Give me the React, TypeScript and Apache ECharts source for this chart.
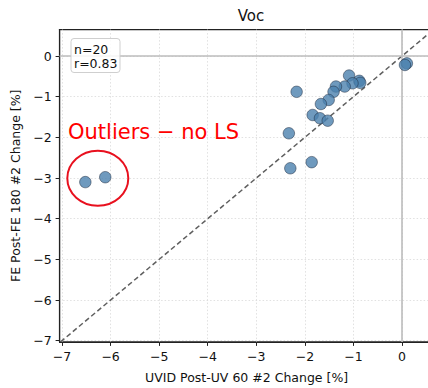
import React, { useEffect, useRef } from "react";
import * as echarts from "echarts";

// Paired changes (UVID vs FE), fitted group
const uvidChange = [0.10, 0.06, -1.09, -0.88, -0.86, -1.02, -1.18, -1.36, -1.41, -1.51, -1.67, -2.17, -1.84, -1.69, -1.53, -2.33, -1.86, -2.30];
const feChange = [-0.18, -0.22, -0.48, -0.61, -0.66, -0.67, -0.75, -0.75, -0.88, -1.08, -1.18, -0.88, -1.45, -1.53, -1.59, -1.90, -2.61, -2.76];

// Points excluded from the least-squares fit
const outlierUvid = [-6.52, -6.11];
const outlierFe = [-3.10, -2.98];

const tickValues = [-7, -6, -5, -4, -3, -2, -1, 0];
const statLines = ["n=20", "r=0.83"];

const X_MIN = -7.05;
const X_MAX = 0.65;
const Y_MIN = -7.03;
const Y_MAX = 0.65;

const FONT = "DejaVu Sans";
const fmt = (v: number) => String(v).replace("-", "\u2212");

export default function App() {
  const ref = useRef<HTMLDivElement>(null);

  useEffect(() => {
    if (!ref.current) return;
    const chart = echarts.init(ref.current, undefined, { renderer: "svg" });

    const mainPts = uvidChange.map((x, i) => [x, feChange[i]]);
    const outPts = outlierUvid.map((x, i) => [x, outlierFe[i]]);
    const lo = Math.max(X_MIN, Y_MIN);
    const hi = Math.min(X_MAX, Y_MAX);

    const axisCommon = {
      type: "value" as const,
      axisLine: { show: true, onZero: false, lineStyle: { color: "#222", width: 1.2 } },
      axisTick: {
        show: true,
        inside: false,
        length: 4,
        customValues: tickValues,
        lineStyle: { color: "#222", width: 1 },
      },
      axisLabel: {
        customValues: tickValues,
        formatter: (v: number) => fmt(v),
        color: "#111",
        fontFamily: FONT,
        fontSize: 12.5,
        margin: 8,
      },
      splitLine: {
        show: true,
        lineStyle: { color: "#d9d9d9", width: 0.8, type: [1.5, 2] },
      },
      nameLocation: "middle" as const,
      nameTextStyle: { fontFamily: FONT, fontSize: 12.5, color: "#111" },
    };

    chart.setOption({
      animation: false,
      backgroundColor: "#ffffff",
      textStyle: { fontFamily: FONT },
      title: {
        text: "Voc",
        left: 246,
        top: 3,
        textAlign: "center",
        textStyle: { fontFamily: FONT, fontSize: 15, fontWeight: "normal", color: "#111" },
      },
      grid: {
        left: 59.6,
        top: 29.6,
        right: -5.6,
        height: 312.3,
        containLabel: false,
        outerBoundsMode: "none",
        show: true,
        borderColor: "#222",
        borderWidth: 1.2,
        backgroundColor: "transparent",
      },
      xAxis: {
        ...axisCommon,
        min: X_MIN,
        max: X_MAX,
        name: "UVID Post-UV 60 #2 Change [%]",
        nameGap: 29,
      },
      yAxis: {
        ...axisCommon,
        min: Y_MIN,
        max: Y_MAX,
        name: "FE Post-FE 180 #2 Change [%]",
        nameGap: 36,
      },
      series: [
        {
          type: "line",
          data: [[lo, lo], [hi + 1, hi + 1]],
          symbol: "none",
          silent: true,
          z: 3,
          lineStyle: { color: "#5f5f5f", width: 1.5, type: [5, 3] },
          markLine: {
            silent: true,
            symbol: "none",
            label: { show: false },
            lineStyle: { color: "#bcbcbc", width: 1.6, type: "solid" },
            data: [{ xAxis: 0 }, { yAxis: 0 }],
          },
        },
        {
          type: "scatter",
          data: mainPts,
          symbolSize: 11.5,
          z: 5,
          itemStyle: {
            color: "#4b81ae",
            borderColor: "rgba(25,35,55,0.75)",
            borderWidth: 0.8,
          },
        },
        {
          type: "scatter",
          data: outPts,
          symbolSize: 11.5,
          z: 5,
          itemStyle: {
            color: "#4b81ae",
            borderColor: "rgba(25,35,55,0.75)",
            borderWidth: 0.8,
          },
        },
      ],
      graphic: [
        {
          type: "rect",
          z: 20,
          shape: { x: 71, y: 38.5, width: 49, height: 34, r: 3 },
          style: { fill: "rgba(255,255,255,0.85)", stroke: "#cfcfcf", lineWidth: 1 },
        },
        {
          type: "text",
          z: 21,
          x: 74,
          y: 42,
          style: {
            text: statLines.join("\n"),
            fontFamily: FONT,
            fontSize: 12.5,
            lineHeight: 14,
            fill: "#111",
          },
        },
        {
          type: "text",
          z: 21,
          x: 68,
          y: 121,
          style: {
            text: "Outliers \u2212 no LS",
            fontFamily: FONT,
            fontSize: 21,
            fill: "#ff0000",
          },
        },
        {
          type: "ellipse",
          z: 21,
          shape: { cx: 97.8, cy: 178.3, rx: 30.5, ry: 27.5 },
          style: { fill: "none", stroke: "#e8101e", lineWidth: 2 },
        },
      ],
    });

    return () => chart.dispose();
  }, []);

  return (
    <div
      ref={ref}
      style={{ position: "fixed", left: 0, top: 0, width: 428, height: 388 }}
    />
  );
}
